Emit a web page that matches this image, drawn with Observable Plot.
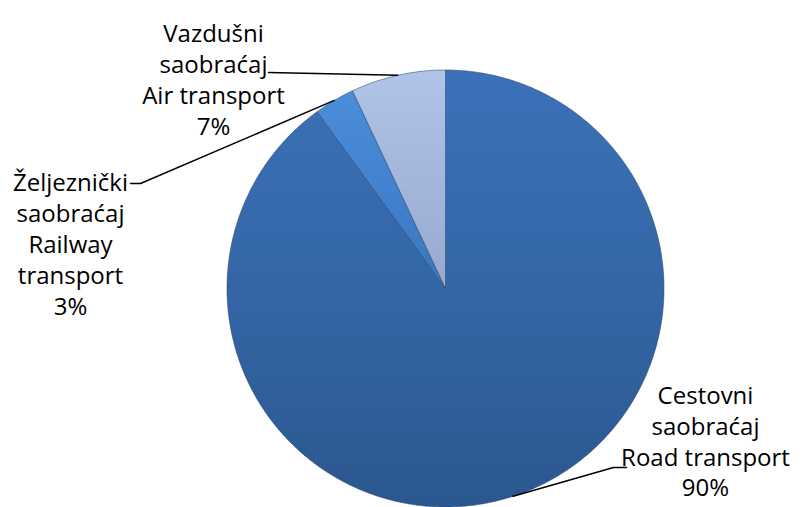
<!DOCTYPE html>
<html><head><meta charset="utf-8">
<script src="https://cdn.jsdelivr.net/npm/d3@7"></script>
<script src="https://cdn.jsdelivr.net/npm/@observablehq/plot@0.6"></script>
<style>body{margin:0;background:#fff}#chart svg{display:block}</style>
</head><body><div id="chart"></div>
<script>
// ---- data ----
const categoriesLocal = ["Cestovni saobraćaj", "Željeznički saobraćaj", "Vazdušni saobraćaj"];
const categoriesEn = ["Road transport", "Railway transport", "Air transport"];
const shares = [90, 3, 7];

// ---- layout / style (not data) ----
const W = 804, H = 507;
const center = [445, 288], radius = 218.5;
const fills = ["url(#gRoad)", "url(#gRail)", "url(#gAir)"];
const labelLayout = [
  {x: 705, y: 382, splitEn: false, leader: [[626, 467], [613, 467]]},
  {x: 70,  y: 168, splitEn: true,  leader: [[130, 183], [140, 183]]},
  {x: 213, y: 19,  splitEn: false, leader: [[268, 72]]}
];

// ---- derived geometry ----
const total = d3.sum(shares);
let acc = 0;
const slices = shares.map((v, i) => {
  const a0 = acc / total * 2 * Math.PI;
  acc += v;
  const a1 = acc / total * 2 * Math.PI;
  return {i, a0, a1, mid: (a0 + a1) / 2};
});
const pt = (a, r) => [center[0] + r * Math.sin(a), center[1] - r * Math.cos(a)];

const polys = slices.map(s => {
  const pts = [{x: center[0], y: center[1]}];
  const n = Math.max(4, Math.ceil((s.a1 - s.a0) / (Math.PI / 360)));
  for (let k = 0; k <= n; k++) {
    const [x, y] = pt(s.a0 + (s.a1 - s.a0) * k / n, radius);
    pts.push({x, y});
  }
  pts.push({x: center[0], y: center[1]});
  return pts;
});

const labels = slices.map(s => {
  const L = labelLayout[s.i];
  const local = categoriesLocal[s.i].split(" ").join("\n");
  const en = L.splitEn ? categoriesEn[s.i].split(" ").join("\n") : categoriesEn[s.i];
  return {x: L.x, y: L.y, text: `${local}\n${en}\n${shares[s.i]}%`, lh: s.i === 0 ? 1.28 : 1.3};
});

const leaders = slices.map(s => {
  const L = labelLayout[s.i];
  const edge = pt(s.mid, radius);
  return [...L.leader, edge].map(([x, y]) => ({x, y}));
});

const marks = [];
polys.forEach((p, i) => {
  marks.push(Plot.line(p, {x: "x", y: "y", fill: fills[i], stroke: "#2a4468", strokeOpacity: 0.55, strokeWidth: 1, curve: "linear"}));
});
leaders.forEach(l => marks.push(Plot.line(l, {x: "x", y: "y", stroke: "#000", strokeWidth: 1.5})));
labels.forEach(l => marks.push(Plot.text([l], {x: "x", y: "y", text: "text", lineAnchor: "top", textAnchor: "middle",
  fontSize: 24, lineHeight: l.lh, fill: "#000"})));

const svg = Plot.plot({
  width: W, height: H,
  margin: 0,
  x: {domain: [0, W], range: [0, W], axis: null},
  y: {domain: [0, H], range: [0, H], axis: null},
  style: {fontFamily: "'Open Sans', sans-serif", background: "#fff", overflow: "visible"},
  marks
});

const defs = d3.select(svg).insert("defs", ":first-child");
function grad(id, stops, y1, y2) {
  const g = defs.append("linearGradient").attr("id", id).attr("gradientUnits", "userSpaceOnUse")
    .attr("x1", 0).attr("x2", 0).attr("y1", y1).attr("y2", y2);
  stops.forEach(([o, c]) => g.append("stop").attr("offset", o).attr("stop-color", c));
}
grad("gRoad", [[0, "#3b71b8"], [0.5, "#3466a6"], [1, "#2b5790"]], center[1] - radius, center[1] + radius);
grad("gRail", [[0, "#4d90dd"], [1, "#3a76c2"]], center[1] - radius, center[1]);
grad("gAir", [[0, "#b0c3e8"], [1, "#97a9cf"]], center[1] - radius, center[1]);

document.getElementById("chart").appendChild(svg);
</script>
</body></html>
